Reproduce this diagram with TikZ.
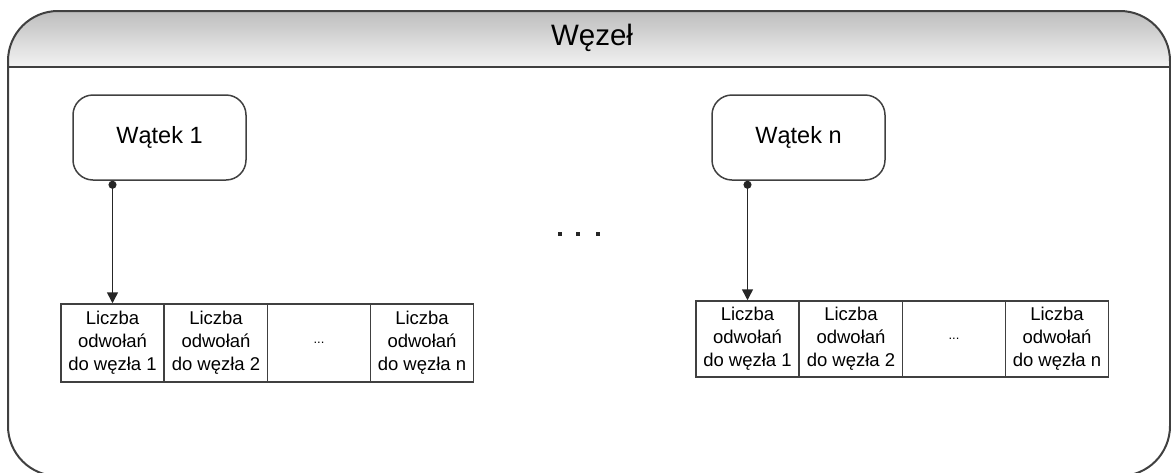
\documentclass[tikz,border=0pt]{standalone}
\usepackage{fontspec}
\setmainfont{Liberation Sans}
\usetikzlibrary{arrows.meta}
\definecolor{edge}{HTML}{404040}
\definecolor{headtop}{HTML}{BDBDBD}
\definecolor{headbot}{HTML}{F3F3F3}
\tikzset{
  thread/.style={draw=edge, line width=1.5pt, rounded corners=20pt,
    minimum width=173pt, minimum height=85pt, inner sep=0pt,
    font=\fontsize{23.5}{27}\selectfont},
  cell/.style={draw=edge, line width=1.5pt, minimum width=103pt,
    inner sep=0pt, align=center, font=\fontsize{18.5}{23}\selectfont},
  conn/.style={draw=black!85, line width=1.5pt,
    {Circle[length=8pt]}-{Triangle[length=11pt,width=11pt]}},
  dotmark/.style={fill=black!85, minimum size=4pt, inner sep=0pt}
}
\begin{document}
\begin{tikzpicture}[x=1pt,y=-1pt]
\useasboundingbox (0,0) rectangle (1171,472);
% outer node frame with shaded title bar
\path[top color=headtop, bottom color=headbot]
  (8,67) [rounded corners=50pt] -- (8,11) -- (1170,11) [sharp corners] -- (1170,67) -- cycle;
\draw[edge, line width=2pt, rounded corners=50pt]
  (8,67) -- (8,476) -- (1170,476) -- (1170,11) -- (8,11) -- (8,67);
\draw[edge, line width=2pt] (8,67) -- (1170,67);
\node[font=\fontsize{29.5}{32}\selectfont] (title) at (592,38) {Węzeł};

% threads
\node[thread] (w1) at (159.5,137.5) {Wątek 1};
\node[thread] (wn) at (798.5,137.5) {Wątek n};

% reference counter tables
\foreach \i/\x/\t in {1/112.5/do węzła 1, 2/216/do węzła 2, 4/422/do węzła n}
  \node[cell, minimum height=78pt] (l\i) at (\x,343) {Liczba\\odwołań\\\t};
\node[cell, minimum height=78pt, font=\fontsize{13}{14}\selectfont] (l3) at (319,343) {...};
\foreach \i/\x/\t in {1/747.5/do węzła 1, 2/851/do węzła 2, 4/1057/do węzła n}
  \node[cell, minimum height=76pt] (r\i) at (\x,339) {Liczba\\odwołań\\\t};
\node[cell, minimum height=76pt, font=\fontsize{13}{14}\selectfont] (r3) at (954,339) {...};

% connectors
\draw[conn] (l1.north |- w1.south) -- (l1.north);
\draw[conn] (r1.north |- wn.south) -- (r1.north);

% ellipsis between the two threads
\node[dotmark] (d1) at (560,234) {};
\node[dotmark] (d2) at (578,234) {};
\node[dotmark] (d3) at (598,234) {};
\end{tikzpicture}
\end{document}
